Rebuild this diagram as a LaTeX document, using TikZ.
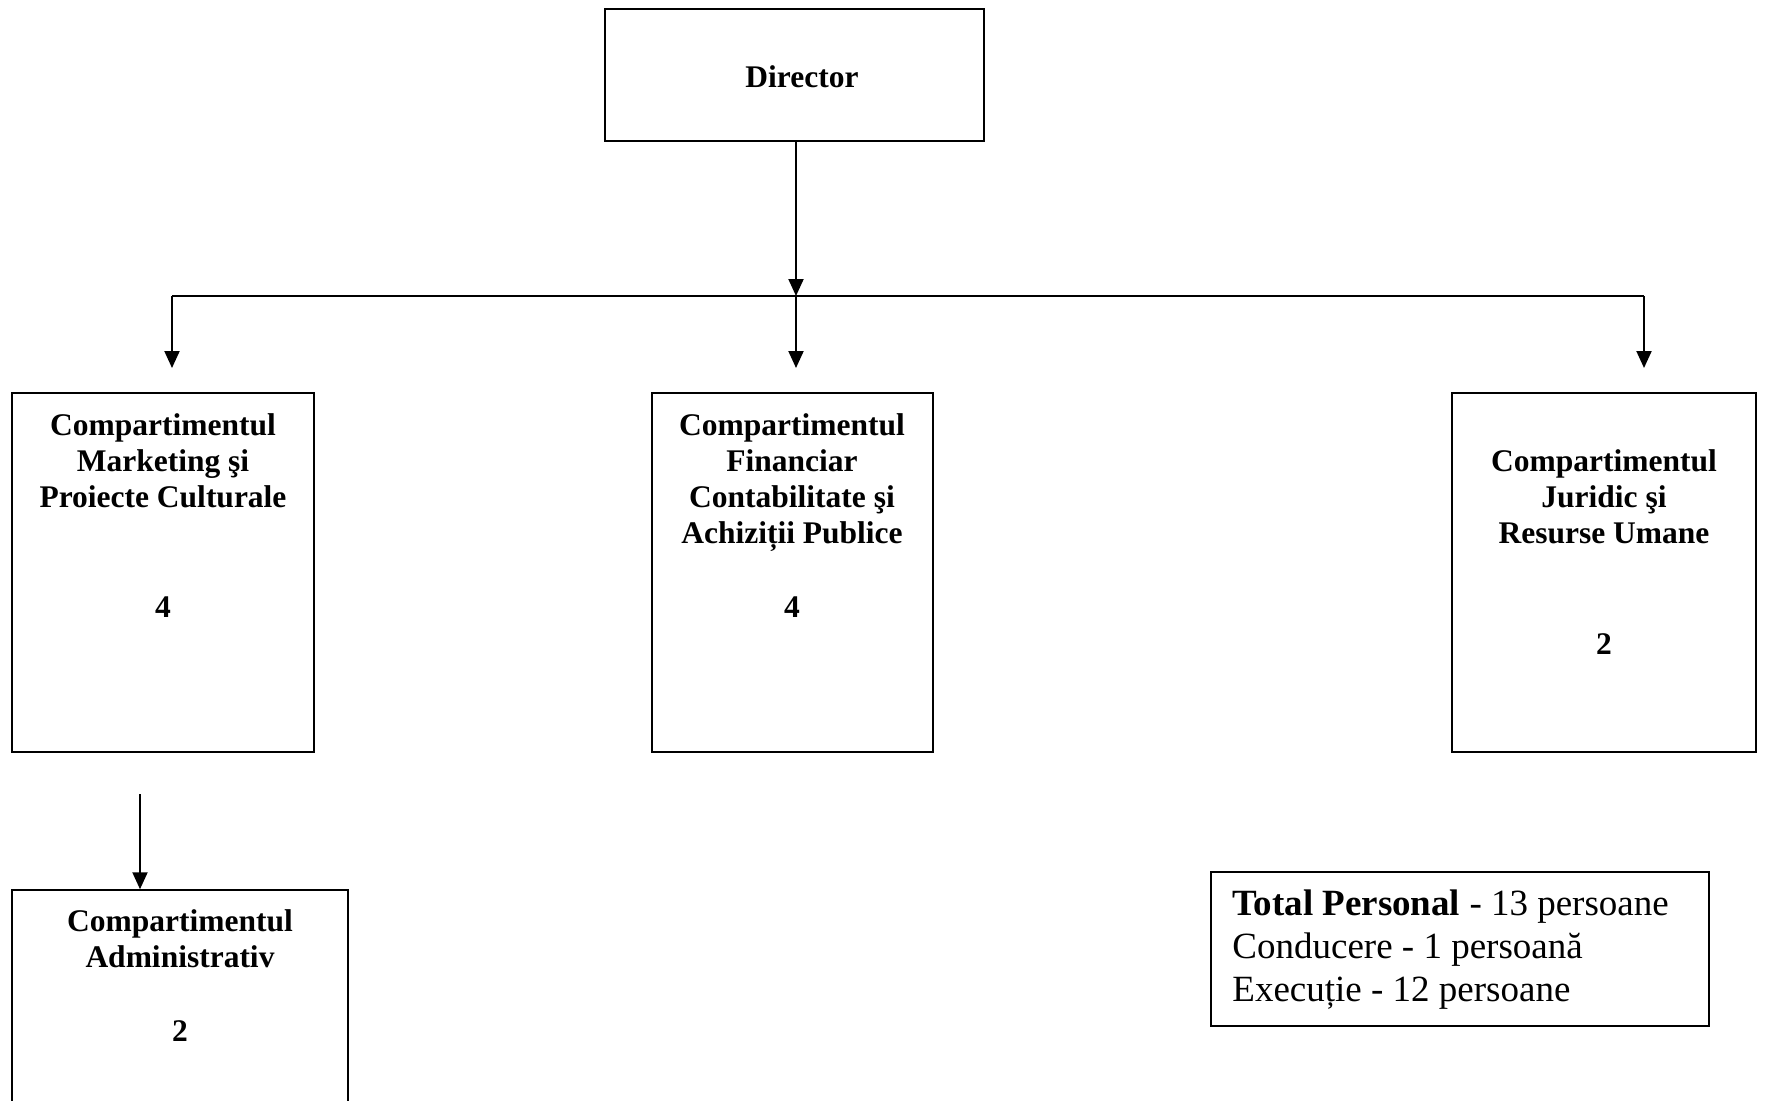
\documentclass[tikz,border=0pt]{standalone}
\usepackage{fontspec}
\setmainfont{Liberation Serif}
\usetikzlibrary{arrows.meta}
\begin{document}
\begin{tikzpicture}[x=0.5pt,y=-0.5pt,
  box/.style={draw, line width=0.75pt, inner sep=0pt},
  lbl/.style={font=\fontsize{15.75}{18}\selectfont\bfseries, align=center, inner sep=0pt},
  arr/.style={line width=1pt, -{Triangle[length=8.5pt,width=7.5pt]}},
  ln/.style={line width=1pt}]
\clip (0,0) rectangle (1766,1100);
\fill[white] (0,0) rectangle (1766,1100);
% boxes
\node[box, minimum width=189.5pt, minimum height=66pt] (dir) at (794.5,75) {};
\node[box, minimum width=151pt, minimum height=179.5pt] (mk) at (163,572.5) {};
\node[box, minimum width=140.5pt, minimum height=179.5pt] (fi) at (792.5,572.5) {};
\node[box, minimum width=152pt, minimum height=179.5pt] (ju) at (1604,572.5) {};
\node[box, minimum width=168pt, minimum height=120pt] (ad) at (180,1010) {};
\node[box, minimum width=249pt, minimum height=77pt] (tot) at (1460,949) {};
% texts
\node[lbl] (dirT) at (802,77) {Director};
\node[lbl] (mkT) at (163,461) {Compartimentul\\Marketing şi\\Proiecte Culturale};
\node[lbl] (mkN) at (163,607) {4};
\node[lbl] (fiT) at (792,483) {Compartimentul\\Financiar\\Contabilitate şi\\Achiziții Publice};
\node[lbl] (fiN) at (792,607) {4};
\node[lbl] (juT) at (1604,497) {Compartimentul\\Juridic şi\\Resurse Umane};
\node[lbl] (juN) at (1604,644) {2};
\node[lbl] (adT) at (180,938.5) {Compartimentul\\Administrativ};
\node[lbl] (adN) at (180,1031) {2};
\node[font=\fontsize{18.5}{21.5}\selectfont, align=left, inner sep=0pt, anchor=west] (totT) at (1232,950)
  {\textbf{Total Personal} - 13 persoane\\Conducere - 1 persoană\\Execuție - 12 persoane};
% connectors
\coordinate (j) at (796,296);
\coordinate (jl) at (172,296);
\coordinate (jr) at (1644,296);
\coordinate (tl) at (172,368);
\coordinate (tm) at (796,368);
\coordinate (tr) at (1644,368);
\coordinate (as) at (140,794);
\draw[arr] (dir.south -| j) -- (j);
\draw[ln] (jl) -- (jr);
\draw[arr] (jl) -- (tl);
\draw[arr] (j) -- (tm);
\draw[arr] (jr) -- (tr);
\draw[arr] (as) -- (ad.north -| as);
\end{tikzpicture}
\end{document}
